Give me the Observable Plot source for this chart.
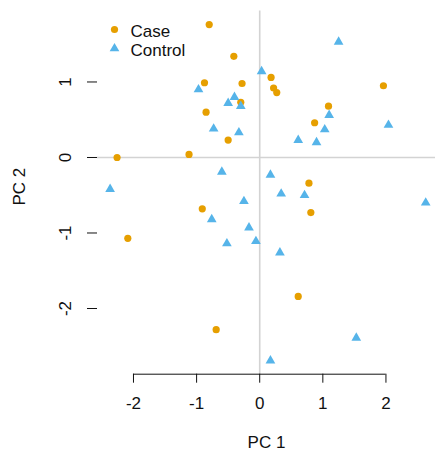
<!DOCTYPE html>
<html><head><meta charset="utf-8">
<script src="https://cdn.jsdelivr.net/npm/d3@7"></script>
<script src="https://cdn.jsdelivr.net/npm/@observablehq/plot@0.6"></script>
<style>body{margin:0;background:#fff}</style>
</head><body><div id="chart"></div>
<script>
// Case (orange circles)
const caseX = [-0.80, -0.41, -0.875, -0.28, -0.30, -0.85, -0.50, -1.12, -2.26, 0.18, 0.22, 0.27, 1.96, 1.09, 0.87, 0.78, -0.91, -2.09, -0.69, 0.81, 0.61];
const caseY = [1.76, 1.34, 0.99, 0.98, 0.73, 0.60, 0.23, 0.04, 0.00, 1.06, 0.92, 0.86, 0.95, 0.68, 0.46, -0.34, -0.68, -1.07, -2.28, -0.73, -1.84];
// Control (blue triangles)
const controlX = [0.03, -0.97, -0.40, -0.50, -0.30, -0.73, -0.33, -0.60, -2.37, 1.25, 1.10, 1.03, 2.04, 0.61, 0.90, 0.17, 0.34, 0.71, 2.63, -0.25, -0.76, -0.17, -0.52, -0.06, 0.32, 1.53, 0.17];
const controlY = [1.14, 0.90, 0.80, 0.72, 0.68, 0.38, 0.33, -0.19, -0.42, 1.53, 0.56, 0.37, 0.43, 0.23, 0.20, -0.23, -0.48, -0.50, -0.60, -0.58, -0.82, -0.93, -1.14, -1.11, -1.26, -2.39, -2.69];
const groups = ["Case", "Control"];
const groupColors = ["#E69F00", "#56B4E9"];
const groupSymbols = ["circle", "triangle"];
const xTicks = [-2, -1, 0, 1, 2];
const yTicks = [-2, -1, 0, 1];
const xLabel = "PC 1";
const yLabel = "PC 2";

const data = [
  ...caseX.map((x, i) => ({x, y: caseY[i], group: "Case"})),
  ...controlX.map((x, i) => ({x, y: controlY[i], group: "Control"}))
];

const xDomain = [-2.57, 2.785];
const yDomain = [-2.87, 1.94];

const legendMarks = groups.flatMap((g, i) => [
  Plot.dot([g], {frameAnchor: "top-left", dx: 17, dy: 18.5 + 19 * i, fill: d => d, symbol: d => d, r: 3.6}),
  Plot.text([g], {frameAnchor: "top-left", dx: 33, dy: 21 + 18.5 * i, text: d => d, textAnchor: "start", lineAnchor: "middle", fill: "#111"})
]);

const plot = Plot.plot({
  width: 435, height: 452,
  marginLeft: 97, marginRight: 0, marginTop: 10.5, marginBottom: 78.3,
  x: {domain: xDomain, axis: null},
  y: {domain: yDomain, axis: null},
  color: {domain: groups, range: groupColors},
  symbol: {domain: groups, range: groupSymbols},
  style: {fontFamily: "'Liberation Sans', Arial, sans-serif", fontSize: "17px", background: "#fff", color: "#111"},
  marks: [
    Plot.ruleY([0], {stroke: "#d3d3d3", strokeWidth: 1.6}),
    Plot.ruleX([0], {stroke: "#d3d3d3", strokeWidth: 1.6}),
    Plot.ruleY([yDomain[0]], {x1: xTicks[0], x2: xTicks[xTicks.length - 1], stroke: "#111", strokeWidth: 1}),
    Plot.axisX({ticks: xTicks, tickSize: 9, tickPadding: 14, tickFormat: d => String(d), label: null, fontSize: 17}),
    Plot.axisY({ticks: yTicks, tickSize: 10, fill: "none", label: null}),
    Plot.text(yTicks, {y: d => d, text: d => String(d), frameAnchor: "left", dx: -32, rotate: -90, textAnchor: "middle", lineAnchor: "middle", fill: "#111"}),
    Plot.text([xLabel], {frameAnchor: "bottom", dy: 68, text: d => d, textAnchor: "middle", lineAnchor: "middle", fill: "#111"}),
    Plot.text([yLabel], {frameAnchor: "left", dx: -78, dy: -6, text: d => d, rotate: -90, textAnchor: "middle", lineAnchor: "middle", fill: "#111"}),
    Plot.dot(data, {x: "x", y: "y", fill: "group", symbol: "group", r: 3.6}),
    ...legendMarks
  ]
});
document.getElementById("chart").appendChild(plot);
</script>
</body></html>
